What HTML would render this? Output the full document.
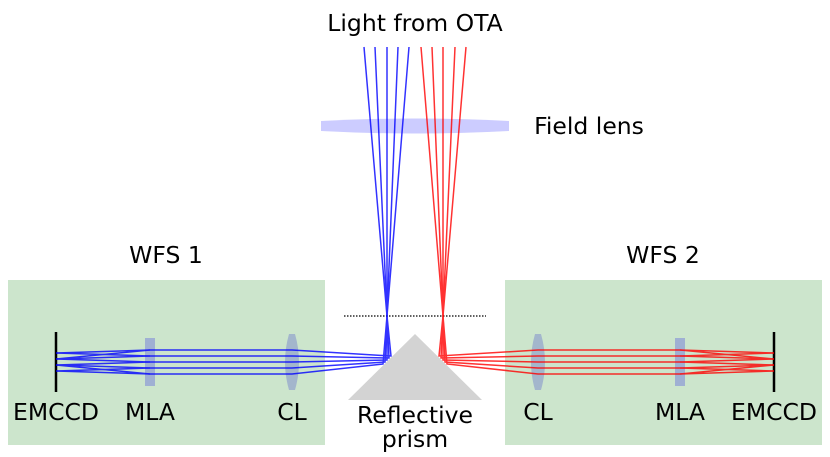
<!DOCTYPE html>
<html><head><style>
body{margin:0;background:#fff;}
svg{display:block;font-family:"DejaVu Sans","Liberation Sans",sans-serif;}
</style></head><body>
<svg width="830" height="457" viewBox="0 0 830 457" xmlns="http://www.w3.org/2000/svg">
<rect x="8" y="280" width="317" height="165" fill="#cce5cc"/>
<rect x="505" y="280" width="317" height="165" fill="#cce5cc"/>
<path d="M321 121 Q415 116 509 121 L509 131 Q415 136 321 131 Z" fill="#ccccff"/>
<line x1="344" y1="316" x2="486" y2="316" stroke="#000" stroke-width="1.2" stroke-dasharray="1.5,1.5"/>
<polygon points="415,334 348,400 482,400" fill="#d3d3d3"/>
<line x1="56" y1="332" x2="56" y2="392" stroke="#000" stroke-width="2.5"/>
<rect x="145" y="338" width="10" height="48" fill="#9fb0d3"/>
<path d="M289 334 L295 334 Q303 362 295 390 L289 390 Q281 362 289 334Z" fill="#a3b6cc"/>
<line x1="774" y1="332" x2="774" y2="392" stroke="#000" stroke-width="2.5"/>
<rect x="675" y="338" width="10" height="48" fill="#9fb0d3"/>
<path d="M535 334 L541 334 Q549 362 541 390 L535 390 Q527 362 535 334Z" fill="#a3b6cc"/>
<g stroke="#0000ff" stroke-width="1.5" fill="none" opacity="0.8">
<polyline points="364,47 387,316 391,356 292,350 150,350 56,353"/>
<polyline points="375,47 387,316 389,358 292,356 150,356 56,359"/>
<polyline points="387,47 387,316 387,360 292,362 150,362 56,365"/>
<polyline points="398,47 387,316 385,362 292,368 150,368 56,371"/>
<polyline points="409,47 387,316 383,364 292,374 150,374 56,371"/>
<line x1="150" y1="350" x2="56" y2="359"/><line x1="150" y1="356" x2="56" y2="353"/>
<line x1="150" y1="362" x2="56" y2="359"/><line x1="150" y1="368" x2="56" y2="365"/>
<line x1="150" y1="374" x2="56" y2="365"/>
</g>
<g stroke="#ff0000" stroke-width="1.5" fill="none" opacity="0.8">
<polyline points="466,47 443,316 439,356 538,350 680,350 774,353"/>
<polyline points="455,47 443,316 441,358 538,356 680,356 774,359"/>
<polyline points="443,47 443,316 443,360 538,362 680,362 774,365"/>
<polyline points="432,47 443,316 445,362 538,368 680,368 774,371"/>
<polyline points="421,47 443,316 447,364 538,374 680,374 774,371"/>
<line x1="680" y1="350" x2="774" y2="359"/><line x1="680" y1="356" x2="774" y2="353"/>
<line x1="680" y1="362" x2="774" y2="359"/><line x1="680" y1="368" x2="774" y2="365"/>
<line x1="680" y1="374" x2="774" y2="365"/>
</g>
<g font-size="23.5" fill="#000" text-anchor="middle">
<text x="415" y="31">Light from OTA</text>
<text x="589" y="134">Field lens</text>
<text x="166" y="263">WFS 1</text>
<text x="663" y="263">WFS 2</text>
<text x="56" y="420">EMCCD</text>
<text x="150" y="420">MLA</text>
<text x="292" y="420">CL</text>
<text x="415" y="423">Reflective</text>
<text x="415" y="447">prism</text>
<text x="538" y="420">CL</text>
<text x="680" y="420">MLA</text>
<text x="774" y="420">EMCCD</text>
</g>
</svg>
</body></html>
